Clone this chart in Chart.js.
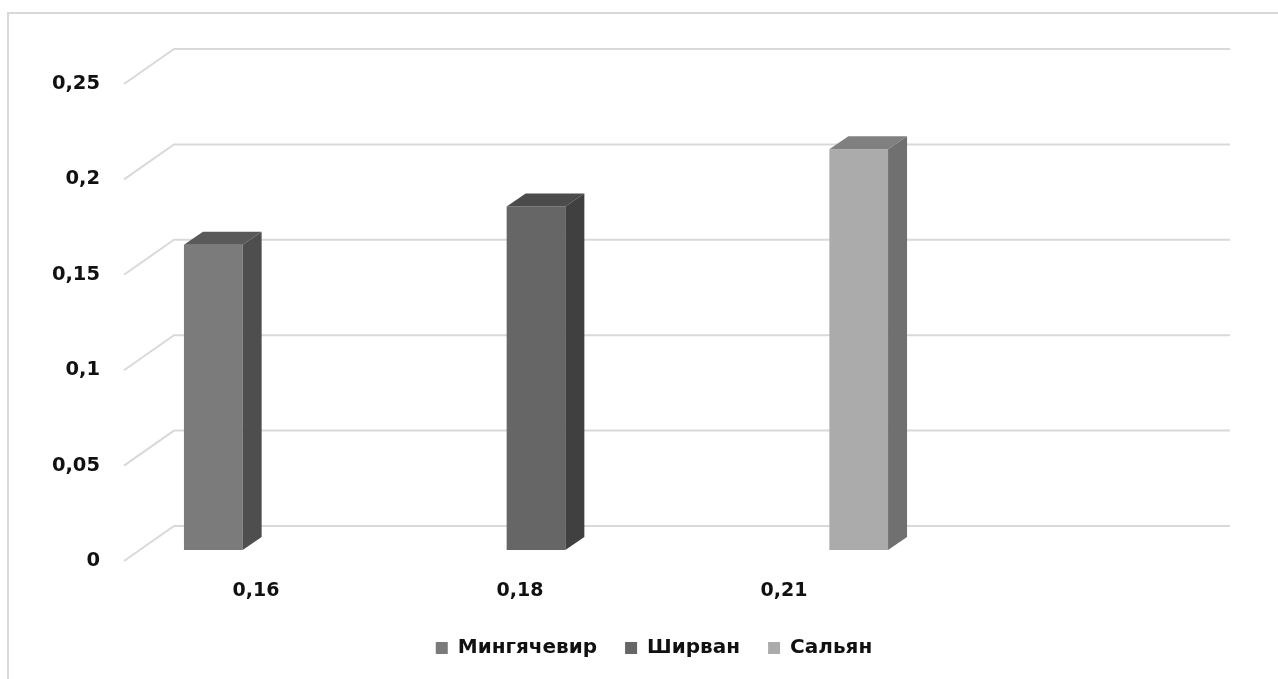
<!DOCTYPE html>
<html>
<head>
<meta charset="utf-8">
<script src="https://cdn.jsdelivr.net/npm/chart.js@4.4.1/dist/chart.umd.min.js"></script>
<style>
  html, body { margin: 0; padding: 0; background: #ffffff; }
  #wrap { width: 1278px; height: 679px; position: relative; }
</style>
</head>
<body>
<div id="wrap"><canvas id="chart" width="1278" height="679"></canvas></div>
<script>
// Category labels along the floor (last slot left empty)
const categories = ['0,16', '0,18', '0,21', ''];

// One series per town, each occupying its own category slot
const seriesNames = ['Мингячевир', 'Ширван', 'Сальян'];
const mingachevir = [0.16, null, null, null];
const shirvan     = [null, 0.18, null, null];
const salyan      = [null, null, 0.21, null];

// Value axis labels, decimal comma
const yTickLabels = ['0', '0,05', '0,1', '0,15', '0,2', '0,25'];

// Face colours: front / top / side
const frontColors = ['#7b7b7b', '#666666', '#ababab'];
const topColors   = ['#595959', '#4b4b4b', '#808080'];
const sideColors  = ['#4e4e4e', '#404040', '#707070'];

const FONT = "'DejaVu Sans', sans-serif";
const GRID = '#d9d9d9';

// Oblique depth of the floor/walls and of the bars
const WALL_DX = 50, WALL_DY = -35;
const BAR_SHIFT_X = 16, BAR_SHIFT_Y = -11;
const BAR_DX = 19, BAR_DY = -13;

const frameAndGrid = {
  id: 'frameAndGrid',
  beforeDraw(chart) {
    const ctx = chart.ctx;
    ctx.save();
    ctx.strokeStyle = GRID;
    ctx.lineWidth = 2;
    ctx.beginPath();
    ctx.moveTo(8, chart.height);
    ctx.lineTo(8, 13);
    ctx.lineTo(chart.width, 13);
    ctx.stroke();
    ctx.restore();
  },
  beforeDatasetsDraw(chart) {
    const ctx = chart.ctx;
    const area = chart.chartArea;
    const y = chart.scales.y;
    ctx.save();
    ctx.strokeStyle = GRID;
    ctx.lineWidth = 2;
    y.ticks.forEach(t => {
      const py = y.getPixelForValue(t.value);
      ctx.beginPath();
      ctx.moveTo(area.left, py);
      ctx.lineTo(area.left + WALL_DX, py + WALL_DY);
      ctx.lineTo(area.right + WALL_DX, py + WALL_DY);
      ctx.stroke();
    });
    ctx.restore();
    // bars sit partway into the depth of the floor
    ctx.save();
    ctx.translate(BAR_SHIFT_X, BAR_SHIFT_Y);
  },
  afterDatasetsDraw(chart) {
    const ctx = chart.ctx;
    chart.data.datasets.forEach((ds, di) => {
      const meta = chart.getDatasetMeta(di);
      meta.data.forEach((bar, i) => {
        if (ds.data[i] == null) return;
        const p = bar.getProps(['x', 'y', 'base', 'width'], true);
        const l = p.x - p.width / 2, r = p.x + p.width / 2;
        // top face
        ctx.fillStyle = topColors[di];
        ctx.beginPath();
        ctx.moveTo(l, p.y);
        ctx.lineTo(l + BAR_DX, p.y + BAR_DY);
        ctx.lineTo(r + BAR_DX, p.y + BAR_DY);
        ctx.lineTo(r, p.y);
        ctx.closePath();
        ctx.fill();
        // side face
        ctx.fillStyle = sideColors[di];
        ctx.beginPath();
        ctx.moveTo(r, p.y);
        ctx.lineTo(r + BAR_DX, p.y + BAR_DY);
        ctx.lineTo(r + BAR_DX, p.base + BAR_DY);
        ctx.lineTo(r, p.base);
        ctx.closePath();
        ctx.fill();
      });
    });
    ctx.restore();
  },
  afterLayout(chart) {
    // centre the legend row under the plot
    const lg = chart.legend;
    if (!lg) return;
    const shift = 654 - (lg.left + lg.right) / 2;
    lg.left += shift;
    lg.right += shift;
  }
};

const seriesData = [mingachevir, shirvan, salyan];

new Chart(document.getElementById('chart'), {
  type: 'bar',
  data: {
    labels: categories,
    datasets: seriesNames.map((name, i) => ({
      label: name,
      data: seriesData[i],
      backgroundColor: frontColors[i],
      borderWidth: 0,
      categoryPercentage: 0.667,
      barPercentage: 1.0
    }))
  },
  options: {
    responsive: false,
    animation: false,
    layout: { padding: { top: 84, right: 98, bottom: 11, left: 0 } },
    plugins: {
      legend: {
        position: 'bottom',
        labels: {
          boxWidth: 12,
          boxHeight: 12,
          padding: 28,
          color: '#111111',
          font: { family: FONT, size: 20, weight: 'bold' }
        }
      },
      tooltip: { enabled: false }
    },
    scales: {
      x: {
        grid: { display: false, drawTicks: false },
        border: { display: false },
        ticks: {
          padding: 19,
          color: '#111111',
          font: { family: FONT, size: 19, weight: 'bold' }
        },
        afterFit(scale) { scale.height = 49; }
      },
      y: {
        min: 0,
        max: 0.25,
        grid: { display: false, drawTicks: false },
        border: { display: false },
        ticks: {
          stepSize: 0.05,
          padding: 24,
          color: '#111111',
          font: { family: FONT, size: 19.5, weight: 'bold' },
          callback: (v, i) => yTickLabels[i]
        },
        afterFit(scale) { scale.width = 124; }
      }
    }
  },
  plugins: [frameAndGrid]
});
</script>
</body>
</html>
